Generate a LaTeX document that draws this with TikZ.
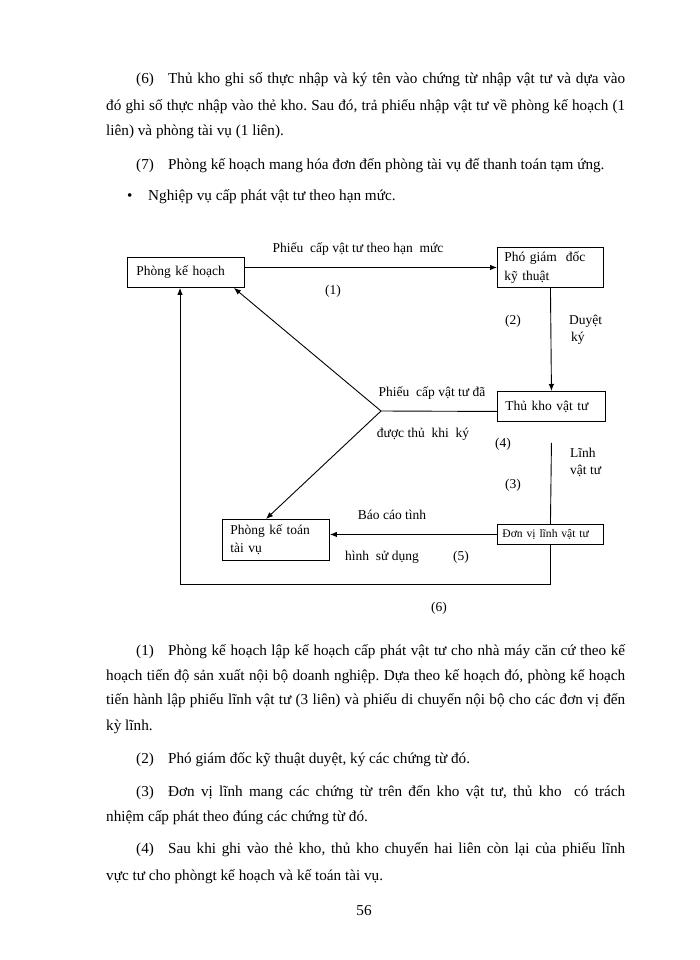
\documentclass[tikz,border=0pt]{standalone}
\usepackage{fontspec}
\setmainfont{Liberation Serif}
\usetikzlibrary{arrows.meta,calc}
\newcommand\bodyf{\fontsize{15.2}{17}\selectfont}
\newcommand\diagf{\fontsize{13.5}{17}\selectfont}
\newcommand\smallf{\fontsize{11.6}{14}\selectfont}
\newcommand\ind[1]{\makebox[32pt][l]{#1}}
\frenchspacing
\begin{document}
\begin{tikzpicture}[x=1pt,y=-1pt,
  txt/.style={anchor=base west,inner sep=0,font=\bodyf},
  lbl/.style={anchor=base,inner sep=0,font=\diagf},
  lbll/.style={anchor=base west,inner sep=0,font=\diagf},
  box/.style={draw,line width=0.9pt,anchor=north west,inner ysep=0,align=left,font=\diagf},
  ln/.style={line width=0.9pt},
  arr/.style={ln,-{Latex[length=7pt,width=5.5pt]}}]
\useasboundingbox (0,0) rectangle (700,960);
\fill[white] (0,0) rectangle (700,960);

% ---- upper text
\node[txt] (t1) at (136,83.5) {\makebox[489pt][s]{\ind{(6)}Thủ kho ghi số thực nhập và ký tên vào chứng từ nhập vật tư và dựa vào}};
\node[txt] (t2) at (106,110.5) {\makebox[519pt][s]{đó ghi số thực nhập vào thẻ kho. Sau đó, trả phiếu nhập vật tư về phòng kế hoạch (1}};
\node[txt] (t3) at (106,135.5) {liên) và phòng tài vụ (1 liên).};
\node[txt] (t4) at (136,169.5) {\ind{(7)}Phòng kế hoạch mang hóa đơn đến phòng tài vụ để thanh toán tạm ứng.};
\node[txt] (t5b) at (127,200.5) {\textbullet};
\node[txt] (t5) at (148,200.5) {Nghiệp vụ cấp phát vật tư theo hạn mức.};

% ---- boxes
\node[box,minimum width=117pt,minimum height=30pt,text width=99pt,inner xsep=9pt] (pkh) at (127,257) {Phòng kế hoạch};
\node[box,minimum width=106pt,minimum height=40pt,text width=92pt,inner xsep=7pt] (pgd) at (497,247) {Phó giám\ \ đốc\\[1.5pt]kỹ thuật};
\node[box,minimum width=106pt,minimum height=30pt,text width=92pt,inner xsep=8pt] (tk) at (497,391) {Thủ kho vật tư};
\node[box,minimum width=106pt,minimum height=20pt,text width=96pt,inner xsep=5pt,font=\smallf] (dv) at (497,524) {Đơn vị lĩnh vật tư};
\node[box,minimum width=107pt,minimum height=41pt,text width=91pt,inner xsep=8pt,yshift=-3pt,minimum height=41pt] (pkt) at (222,516) {Phòng kế toán\\[0.5pt]tài vụ};

% ---- connectors
\coordinate (j) at (381,411);
\coordinate (lp) at (180,584);
\coordinate (c3) at ($(tk.south)+(0,21)$);
\draw[arr] (pkh.east |- pgd.west) -- (pgd.west);
\draw[arr] (pgd.south) -- (tk.north);
\draw[ln] ($(tk.west)+(0,5)$) -- (j);
\draw[arr] (j) -- ($(pkh.south east)+(-11,0)$);
\draw[arr] (j) -- ($(pkt.north west)+(44,0)$);
\draw[ln] (dv.north) -- (c3);
\draw[arr] (dv.west) -- (pkt.east |- dv.west);
\draw[arr] (dv.south) |- (lp) -- (lp |- pkh.south);

% ---- diagram labels
\node[lbl] (l1) at (358,252.5) {Phiếu\ \ cấp vật tư theo hạn\ \ mức};
\node[lbl] (n1) at (333,294.5) {(1)};
\node[lbl] (n2) at (513,324.5) {(2)};
\node[lbll] (l2a) at (569,324.5) {Duyệt};
\node[lbll] (l2b) at (571,341.5) {ký};
\node[lbl] (l4a) at (432,396.5) {Phiếu\ \ cấp vật tư đã};
\node[lbl] (l4b) at (423,437.5) {được thủ\ \ khi\ \ ký};
\node[lbl] (n4) at (503,447.5) {(4)};
\node[lbll] (l3a) at (570,457.5) {Lĩnh};
\node[lbll] (l3b) at (570,474.5) {vật tư};
\node[lbl] (n3) at (513,488.5) {(3)};
\node[lbl] (l5a) at (392,519.5) {Báo cáo tình};
\node[lbl] (l5b) at (382,560.5) {hình\ \ sử dụng};
\node[lbl] (n5) at (461,560.5) {(5)};
\node[lbl] (n6) at (439,611.5) {(6)};

% ---- lower text
\node[txt] (b1) at (136,655.5) {\makebox[489pt][s]{\ind{(1)}Phòng kế hoạch lập kế hoạch cấp phát vật tư cho nhà máy căn cứ theo kế}};
\node[txt] (b2) at (106,680.5) {\makebox[519pt][s]{hoạch tiến độ sản xuất nội bộ doanh nghiệp. Dựa theo kế hoạch đó, phòng kế hoạch}};
\node[txt] (b3) at (106,704.5) {\makebox[519pt][s]{tiến hành lập phiếu lĩnh vật tư (3 liên) và phiếu di chuyển nội bộ cho các đơn vị đến}};
\node[txt] (b4) at (106,730.5) {kỳ lĩnh.};
\node[txt] (b5) at (136,763.5) {\ind{(2)}Phó giám đốc kỹ thuật duyệt, ký các chứng từ đó.};
\node[txt] (b6) at (136,796.5) {\makebox[489pt][s]{\ind{(3)}Đơn vị lĩnh mang các chứng từ trên đến kho vật tư, thủ kho\ \ có trách}};
\node[txt] (b7) at (106,821.5) {nhiệm cấp phát theo đúng các chứng từ đó.};
\node[txt] (b8) at (136,853.5) {\makebox[489pt][s]{\ind{(4)}Sau khi ghi vào thẻ kho, thủ kho chuyển hai liên còn lại của phiếu lĩnh}};
\node[txt] (b9) at (106,880.5) {vực tư cho phòngt kế hoạch và kế toán tài vụ.};
\node[lbl,font=\bodyf] (pg) at (364,915.5) {56};
\end{tikzpicture}
\end{document}
